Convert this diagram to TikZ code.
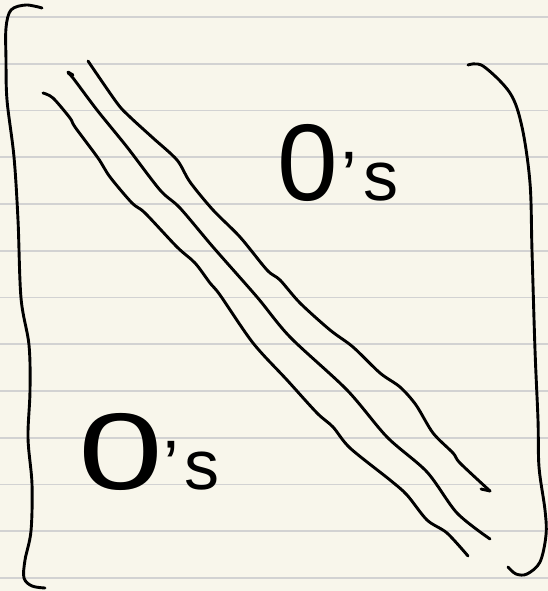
\documentclass[tikz,border=0pt]{standalone}
\usepackage{fontspec}
\setmainfont{Liberation Sans}
\definecolor{paper}{HTML}{F8F6EB}
\definecolor{rulegray}{HTML}{D2D2D2}
\begin{document}
\begin{tikzpicture}[x=1pt,y=-1pt,
  ink/.style={line width=2.9pt,line cap=round,line join=round,black},
  ruleline/.style={line width=1.8pt,rulegray},
  hand/.style={inner sep=0pt,anchor=base west}]
\fill[paper] (0,0) rectangle (548,591);
\useasboundingbox (0,0) rectangle (548,591);
\foreach \k in {0,...,12}{
  \draw[ruleline] (0,{17+46.75*\k}) -- (548,{17+46.75*\k});
}
% left bracket
\draw[ink] plot[smooth,tension=0.55] coordinates {(42,8) (26,5) (11,10) (6,28) (6,60) (7,100) (14,157) (18,220) (21,298) (29,345) (30,391) (28,438) (32,484) (31,531) (25,560) (24,578) (32,586) (45,588)};
% right bracket
\draw[ink] plot[smooth,tension=0.55] coordinates {(468,65) (483,66) (510,93) (522,127) (530,183) (532,251) (535,350) (538,420) (539,467) (545,510) (546,535) (540,562) (527,574) (516,574) (508,567)};
% diagonal lines
\draw[ink] plot[smooth,tension=0.5] coordinates {(43,93) (53,98) (70,118) (75,127) (98,158) (110,177) (132,203) (145,213) (177,247) (195,263) (210,283) (220,295) (253,343) (287,380) (317,413) (333,427) (350,448) (390,480) (407,495) (427,520) (447,533) (468,556)};
\draw[ink] plot[smooth,tension=0.5] coordinates {(68,73) (73,78) (97,110) (127,147) (160,190) (180,208) (213,247) (257,297) (290,337) (347,390) (387,437) (427,472) (457,513) (490,539)};
\draw[ink] (73,75) -- (68,72);
\draw[ink] plot[smooth,tension=0.5] coordinates {(88,61) (117,103) (130,117) (153,138) (177,160) (190,182) (213,210) (240,237) (267,270) (280,280) (300,303) (330,330) (353,347) (380,373) (400,387) (416,405) (433,433) (453,453) (460,463) (490,491)};
\draw[ink] (490,491) -- (481,489);
% labels
\node[hand] (topzeros) at (277,200) {\fontsize{109}{109}\selectfont 0\kern4pt\fontsize{70}{70}\selectfont '\kern6pt s};
\node[hand] (botzeros) at (78,489) {\fontsize{109}{109}\selectfont\scalebox{1.4}[1]{0}\fontsize{70}{70}\selectfont '\kern6pt s};
\end{tikzpicture}
\end{document}
